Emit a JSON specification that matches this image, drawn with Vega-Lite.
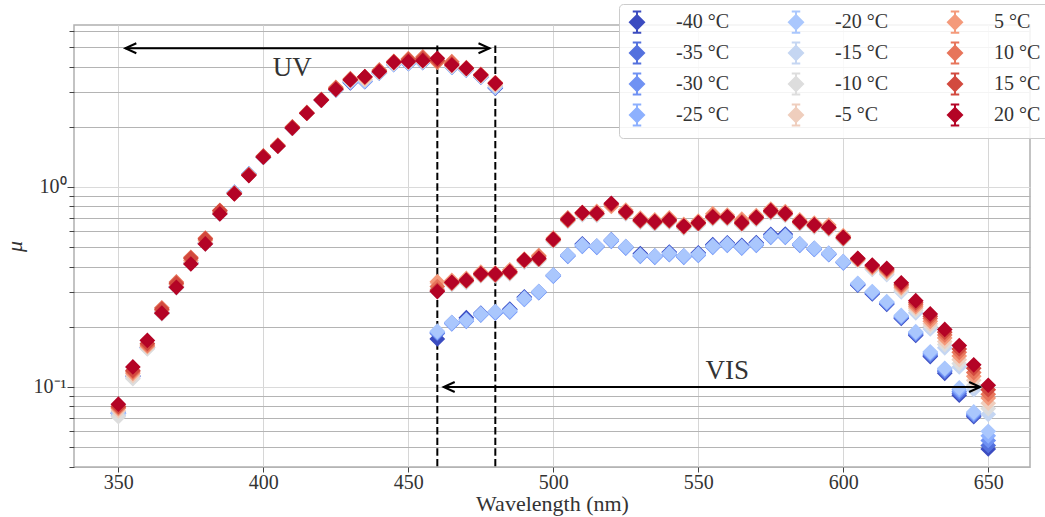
{
  "$schema": "https://vega.github.io/schema/vega-lite/v6.json",
  "autosize": {"type": "none"},
  "padding": {"left": 74, "top": 25, "right": 15, "bottom": 50},
  "width": 956,
  "height": 442,
  "background": "white",
  "config": {
    "font": "Liberation Serif",
    "view": {"stroke": "#b0b0b0", "strokeWidth": 1.5},
    "axis": {"labelFont": "Liberation Serif", "titleFont": "Liberation Serif", "labelFontSize": 20, "titleFontSize": 20, "labelColor": "#333333", "titleColor": "#333333", "tickColor": "#444444", "domain": false, "titleFontWeight": "normal"}
  },
  "datasets": {
    "pts": [
      {"t":"-40 °C","w":350,"m":0.074},{"t":"-40 °C","w":355,"m":0.113},{"t":"-40 °C","w":360,"m":0.157},{"t":"-40 °C","w":365,"m":0.235},{"t":"-40 °C","w":370,"m":0.316},{"t":"-40 °C","w":375,"m":0.416},{"t":"-40 °C","w":380,"m":0.522},{"t":"-40 °C","w":385,"m":0.738},{"t":"-40 °C","w":390,"m":0.94},{"t":"-40 °C","w":395,"m":1.16},{"t":"-40 °C","w":400,"m":1.41},{"t":"-40 °C","w":405,"m":1.6},{"t":"-40 °C","w":410,"m":1.97},{"t":"-40 °C","w":415,"m":2.34},{"t":"-40 °C","w":420,"m":2.72},{"t":"-40 °C","w":425,"m":3.06},{"t":"-40 °C","w":430,"m":3.32},{"t":"-40 °C","w":435,"m":3.36},{"t":"-40 °C","w":440,"m":3.72},{"t":"-40 °C","w":445,"m":4.1},{"t":"-40 °C","w":450,"m":4.15},{"t":"-40 °C","w":455,"m":4.2},{"t":"-40 °C","w":460,"m":4.25},{"t":"-40 °C","w":465,"m":3.98},{"t":"-40 °C","w":470,"m":3.85},{"t":"-40 °C","w":475,"m":3.55},{"t":"-40 °C","w":480,"m":3.12},
      {"t":"-40 °C","w":460,"m":0.174},{"t":"-40 °C","w":465,"m":0.208},{"t":"-40 °C","w":470,"m":0.222},{"t":"-40 °C","w":475,"m":0.232},{"t":"-40 °C","w":480,"m":0.236},{"t":"-40 °C","w":485,"m":0.245},{"t":"-40 °C","w":490,"m":0.282},{"t":"-40 °C","w":495,"m":0.297},{"t":"-40 °C","w":500,"m":0.36},{"t":"-40 °C","w":505,"m":0.452},{"t":"-40 °C","w":510,"m":0.52},{"t":"-40 °C","w":515,"m":0.502},{"t":"-40 °C","w":520,"m":0.54},{"t":"-40 °C","w":525,"m":0.498},{"t":"-40 °C","w":530,"m":0.465},{"t":"-40 °C","w":535,"m":0.448},{"t":"-40 °C","w":540,"m":0.473},{"t":"-40 °C","w":545,"m":0.448},{"t":"-40 °C","w":550,"m":0.469},{"t":"-40 °C","w":555,"m":0.515},{"t":"-40 °C","w":560,"m":0.526},{"t":"-40 °C","w":565,"m":0.511},{"t":"-40 °C","w":570,"m":0.527},{"t":"-40 °C","w":575,"m":0.58},{"t":"-40 °C","w":580,"m":0.582},{"t":"-40 °C","w":585,"m":0.514},{"t":"-40 °C","w":590,"m":0.489},{"t":"-40 °C","w":595,"m":0.461},{"t":"-40 °C","w":600,"m":0.419},{"t":"-40 °C","w":605,"m":0.323},{"t":"-40 °C","w":610,"m":0.292},{"t":"-40 °C","w":615,"m":0.259},{"t":"-40 °C","w":620,"m":0.22},{"t":"-40 °C","w":625,"m":0.181},{"t":"-40 °C","w":630,"m":0.142},{"t":"-40 °C","w":635,"m":0.117},{"t":"-40 °C","w":640,"m":0.091},{"t":"-40 °C","w":645,"m":0.071},{"t":"-40 °C","w":650,"m":0.049},

      {"t":"-35 °C","w":350,"m":0.074},{"t":"-35 °C","w":355,"m":0.113},{"t":"-35 °C","w":360,"m":0.157},{"t":"-35 °C","w":365,"m":0.235},{"t":"-35 °C","w":370,"m":0.316},{"t":"-35 °C","w":375,"m":0.416},{"t":"-35 °C","w":380,"m":0.522},{"t":"-35 °C","w":385,"m":0.738},{"t":"-35 °C","w":390,"m":0.94},{"t":"-35 °C","w":395,"m":1.16},{"t":"-35 °C","w":400,"m":1.41},{"t":"-35 °C","w":405,"m":1.6},{"t":"-35 °C","w":410,"m":1.97},{"t":"-35 °C","w":415,"m":2.34},{"t":"-35 °C","w":420,"m":2.72},{"t":"-35 °C","w":425,"m":3.06},{"t":"-35 °C","w":430,"m":3.35},{"t":"-35 °C","w":435,"m":3.38},{"t":"-35 °C","w":440,"m":3.72},{"t":"-35 °C","w":445,"m":4.1},{"t":"-35 °C","w":450,"m":4.15},{"t":"-35 °C","w":455,"m":4.2},{"t":"-35 °C","w":460,"m":4.25},{"t":"-35 °C","w":465,"m":3.98},{"t":"-35 °C","w":470,"m":3.85},{"t":"-35 °C","w":475,"m":3.55},{"t":"-35 °C","w":480,"m":3.15},
      {"t":"-35 °C","w":460,"m":0.185},{"t":"-35 °C","w":465,"m":0.21},{"t":"-35 °C","w":470,"m":0.218},{"t":"-35 °C","w":475,"m":0.234},{"t":"-35 °C","w":480,"m":0.238},{"t":"-35 °C","w":485,"m":0.243},{"t":"-35 °C","w":490,"m":0.28},{"t":"-35 °C","w":495,"m":0.3},{"t":"-35 °C","w":500,"m":0.363},{"t":"-35 °C","w":505,"m":0.457},{"t":"-35 °C","w":510,"m":0.515},{"t":"-35 °C","w":515,"m":0.507},{"t":"-35 °C","w":520,"m":0.545},{"t":"-35 °C","w":525,"m":0.503},{"t":"-35 °C","w":530,"m":0.457},{"t":"-35 °C","w":535,"m":0.452},{"t":"-35 °C","w":540,"m":0.47},{"t":"-35 °C","w":545,"m":0.452},{"t":"-35 °C","w":550,"m":0.465},{"t":"-35 °C","w":555,"m":0.51},{"t":"-35 °C","w":560,"m":0.522},{"t":"-35 °C","w":565,"m":0.506},{"t":"-35 °C","w":570,"m":0.522},{"t":"-35 °C","w":575,"m":0.575},{"t":"-35 °C","w":580,"m":0.575},{"t":"-35 °C","w":585,"m":0.519},{"t":"-35 °C","w":590,"m":0.494},{"t":"-35 °C","w":595,"m":0.466},{"t":"-35 °C","w":600,"m":0.423},{"t":"-35 °C","w":605,"m":0.325},{"t":"-35 °C","w":610,"m":0.294},{"t":"-35 °C","w":615,"m":0.261},{"t":"-35 °C","w":620,"m":0.222},{"t":"-35 °C","w":625,"m":0.183},{"t":"-35 °C","w":630,"m":0.144},{"t":"-35 °C","w":635,"m":0.119},{"t":"-35 °C","w":640,"m":0.093},{"t":"-35 °C","w":645,"m":0.072},{"t":"-35 °C","w":650,"m":0.051},

      {"t":"-30 °C","w":350,"m":0.074},{"t":"-30 °C","w":355,"m":0.114},{"t":"-30 °C","w":360,"m":0.158},{"t":"-30 °C","w":365,"m":0.236},{"t":"-30 °C","w":370,"m":0.317},{"t":"-30 °C","w":375,"m":0.418},{"t":"-30 °C","w":380,"m":0.524},{"t":"-30 °C","w":385,"m":0.74},{"t":"-30 °C","w":390,"m":0.938},{"t":"-30 °C","w":395,"m":1.16},{"t":"-30 °C","w":400,"m":1.41},{"t":"-30 °C","w":405,"m":1.6},{"t":"-30 °C","w":410,"m":1.97},{"t":"-30 °C","w":415,"m":2.34},{"t":"-30 °C","w":420,"m":2.72},{"t":"-30 °C","w":425,"m":3.06},{"t":"-30 °C","w":430,"m":3.35},{"t":"-30 °C","w":435,"m":3.38},{"t":"-30 °C","w":440,"m":3.72},{"t":"-30 °C","w":445,"m":4.1},{"t":"-30 °C","w":450,"m":4.15},{"t":"-30 °C","w":455,"m":4.2},{"t":"-30 °C","w":460,"m":4.25},{"t":"-30 °C","w":465,"m":3.98},{"t":"-30 °C","w":470,"m":3.85},{"t":"-30 °C","w":475,"m":3.55},{"t":"-30 °C","w":480,"m":3.15},
      {"t":"-30 °C","w":460,"m":0.187},{"t":"-30 °C","w":465,"m":0.207},{"t":"-30 °C","w":470,"m":0.213},{"t":"-30 °C","w":475,"m":0.229},{"t":"-30 °C","w":480,"m":0.234},{"t":"-30 °C","w":485,"m":0.237},{"t":"-30 °C","w":490,"m":0.274},{"t":"-30 °C","w":495,"m":0.296},{"t":"-30 °C","w":500,"m":0.358},{"t":"-30 °C","w":505,"m":0.45},{"t":"-30 °C","w":510,"m":0.505},{"t":"-30 °C","w":515,"m":0.499},{"t":"-30 °C","w":520,"m":0.535},{"t":"-30 °C","w":525,"m":0.495},{"t":"-30 °C","w":530,"m":0.45},{"t":"-30 °C","w":535,"m":0.445},{"t":"-30 °C","w":540,"m":0.459},{"t":"-30 °C","w":545,"m":0.445},{"t":"-30 °C","w":550,"m":0.455},{"t":"-30 °C","w":555,"m":0.499},{"t":"-30 °C","w":560,"m":0.511},{"t":"-30 °C","w":565,"m":0.495},{"t":"-30 °C","w":570,"m":0.511},{"t":"-30 °C","w":575,"m":0.56},{"t":"-30 °C","w":580,"m":0.56},{"t":"-30 °C","w":585,"m":0.511},{"t":"-30 °C","w":590,"m":0.487},{"t":"-30 °C","w":595,"m":0.459},{"t":"-30 °C","w":600,"m":0.417},{"t":"-30 °C","w":605,"m":0.326},{"t":"-30 °C","w":610,"m":0.296},{"t":"-30 °C","w":615,"m":0.263},{"t":"-30 °C","w":620,"m":0.224},{"t":"-30 °C","w":625,"m":0.185},{"t":"-30 °C","w":630,"m":0.146},{"t":"-30 °C","w":635,"m":0.121},{"t":"-30 °C","w":640,"m":0.095},{"t":"-30 °C","w":645,"m":0.073},{"t":"-30 °C","w":650,"m":0.054},

      {"t":"-25 °C","w":350,"m":0.075},{"t":"-25 °C","w":355,"m":0.114},{"t":"-25 °C","w":360,"m":0.158},{"t":"-25 °C","w":365,"m":0.236},{"t":"-25 °C","w":370,"m":0.317},{"t":"-25 °C","w":375,"m":0.418},{"t":"-25 °C","w":380,"m":0.524},{"t":"-25 °C","w":385,"m":0.74},{"t":"-25 °C","w":390,"m":0.938},{"t":"-25 °C","w":395,"m":1.16},{"t":"-25 °C","w":400,"m":1.41},{"t":"-25 °C","w":405,"m":1.6},{"t":"-25 °C","w":410,"m":1.97},{"t":"-25 °C","w":415,"m":2.34},{"t":"-25 °C","w":420,"m":2.72},{"t":"-25 °C","w":425,"m":3.06},{"t":"-25 °C","w":430,"m":3.35},{"t":"-25 °C","w":435,"m":3.38},{"t":"-25 °C","w":440,"m":3.72},{"t":"-25 °C","w":445,"m":4.1},{"t":"-25 °C","w":450,"m":4.15},{"t":"-25 °C","w":455,"m":4.2},{"t":"-25 °C","w":460,"m":4.25},{"t":"-25 °C","w":465,"m":3.98},{"t":"-25 °C","w":470,"m":3.85},{"t":"-25 °C","w":475,"m":3.55},{"t":"-25 °C","w":480,"m":3.15},
      {"t":"-25 °C","w":460,"m":0.188},{"t":"-25 °C","w":465,"m":0.208},{"t":"-25 °C","w":470,"m":0.214},{"t":"-25 °C","w":475,"m":0.23},{"t":"-25 °C","w":480,"m":0.236},{"t":"-25 °C","w":485,"m":0.239},{"t":"-25 °C","w":490,"m":0.275},{"t":"-25 °C","w":495,"m":0.297},{"t":"-25 °C","w":500,"m":0.359},{"t":"-25 °C","w":505,"m":0.452},{"t":"-25 °C","w":510,"m":0.508},{"t":"-25 °C","w":515,"m":0.502},{"t":"-25 °C","w":520,"m":0.538},{"t":"-25 °C","w":525,"m":0.498},{"t":"-25 °C","w":530,"m":0.452},{"t":"-25 °C","w":535,"m":0.447},{"t":"-25 °C","w":540,"m":0.461},{"t":"-25 °C","w":545,"m":0.447},{"t":"-25 °C","w":550,"m":0.457},{"t":"-25 °C","w":555,"m":0.502},{"t":"-25 °C","w":560,"m":0.514},{"t":"-25 °C","w":565,"m":0.498},{"t":"-25 °C","w":570,"m":0.514},{"t":"-25 °C","w":575,"m":0.563},{"t":"-25 °C","w":580,"m":0.563},{"t":"-25 °C","w":585,"m":0.514},{"t":"-25 °C","w":590,"m":0.489},{"t":"-25 °C","w":595,"m":0.461},{"t":"-25 °C","w":600,"m":0.419},{"t":"-25 °C","w":605,"m":0.328},{"t":"-25 °C","w":610,"m":0.298},{"t":"-25 °C","w":615,"m":0.265},{"t":"-25 °C","w":620,"m":0.226},{"t":"-25 °C","w":625,"m":0.187},{"t":"-25 °C","w":630,"m":0.148},{"t":"-25 °C","w":635,"m":0.123},{"t":"-25 °C","w":640,"m":0.097},{"t":"-25 °C","w":645,"m":0.074},{"t":"-25 °C","w":650,"m":0.057},

      {"t":"-20 °C","w":350,"m":0.074},{"t":"-20 °C","w":355,"m":0.113},{"t":"-20 °C","w":360,"m":0.157},{"t":"-20 °C","w":365,"m":0.235},{"t":"-20 °C","w":370,"m":0.316},{"t":"-20 °C","w":375,"m":0.416},{"t":"-20 °C","w":380,"m":0.522},{"t":"-20 °C","w":385,"m":0.738},{"t":"-20 °C","w":390,"m":0.94},{"t":"-20 °C","w":395,"m":1.16},{"t":"-20 °C","w":400,"m":1.41},{"t":"-20 °C","w":405,"m":1.6},{"t":"-20 °C","w":410,"m":1.97},{"t":"-20 °C","w":415,"m":2.34},{"t":"-20 °C","w":420,"m":2.72},{"t":"-20 °C","w":425,"m":3.06},{"t":"-20 °C","w":430,"m":3.35},{"t":"-20 °C","w":435,"m":3.38},{"t":"-20 °C","w":440,"m":3.72},{"t":"-20 °C","w":445,"m":4.1},{"t":"-20 °C","w":450,"m":4.15},{"t":"-20 °C","w":455,"m":4.2},{"t":"-20 °C","w":460,"m":4.25},{"t":"-20 °C","w":465,"m":3.98},{"t":"-20 °C","w":470,"m":3.85},{"t":"-20 °C","w":475,"m":3.55},{"t":"-20 °C","w":480,"m":3.15},
      {"t":"-20 °C","w":460,"m":0.19},{"t":"-20 °C","w":465,"m":0.21},{"t":"-20 °C","w":470,"m":0.216},{"t":"-20 °C","w":475,"m":0.232},{"t":"-20 °C","w":480,"m":0.238},{"t":"-20 °C","w":485,"m":0.241},{"t":"-20 °C","w":490,"m":0.278},{"t":"-20 °C","w":495,"m":0.3},{"t":"-20 °C","w":500,"m":0.363},{"t":"-20 °C","w":505,"m":0.457},{"t":"-20 °C","w":510,"m":0.513},{"t":"-20 °C","w":515,"m":0.507},{"t":"-20 °C","w":520,"m":0.543},{"t":"-20 °C","w":525,"m":0.503},{"t":"-20 °C","w":530,"m":0.457},{"t":"-20 °C","w":535,"m":0.452},{"t":"-20 °C","w":540,"m":0.466},{"t":"-20 °C","w":545,"m":0.452},{"t":"-20 °C","w":550,"m":0.462},{"t":"-20 °C","w":555,"m":0.507},{"t":"-20 °C","w":560,"m":0.519},{"t":"-20 °C","w":565,"m":0.503},{"t":"-20 °C","w":570,"m":0.519},{"t":"-20 °C","w":575,"m":0.569},{"t":"-20 °C","w":580,"m":0.569},{"t":"-20 °C","w":585,"m":0.519},{"t":"-20 °C","w":590,"m":0.494},{"t":"-20 °C","w":595,"m":0.466},{"t":"-20 °C","w":600,"m":0.423},{"t":"-20 °C","w":605,"m":0.33},{"t":"-20 °C","w":610,"m":0.3},{"t":"-20 °C","w":615,"m":0.267},{"t":"-20 °C","w":620,"m":0.228},{"t":"-20 °C","w":625,"m":0.189},{"t":"-20 °C","w":630,"m":0.15},{"t":"-20 °C","w":635,"m":0.124},{"t":"-20 °C","w":640,"m":0.099},{"t":"-20 °C","w":645,"m":0.075},{"t":"-20 °C","w":650,"m":0.06},

      {"t":"-15 °C","w":350,"m":0.072},{"t":"-15 °C","w":355,"m":0.111},{"t":"-15 °C","w":360,"m":0.156},{"t":"-15 °C","w":365,"m":0.233},{"t":"-15 °C","w":370,"m":0.314},{"t":"-15 °C","w":375,"m":0.414},{"t":"-15 °C","w":380,"m":0.52},{"t":"-15 °C","w":385,"m":0.735},{"t":"-15 °C","w":390,"m":0.935},{"t":"-15 °C","w":395,"m":1.15},{"t":"-15 °C","w":400,"m":1.41},{"t":"-15 °C","w":405,"m":1.6},{"t":"-15 °C","w":410,"m":1.97},{"t":"-15 °C","w":415,"m":2.34},{"t":"-15 °C","w":420,"m":2.72},{"t":"-15 °C","w":425,"m":3.07},{"t":"-15 °C","w":430,"m":3.4},{"t":"-15 °C","w":435,"m":3.45},{"t":"-15 °C","w":440,"m":3.75},{"t":"-15 °C","w":445,"m":4.15},{"t":"-15 °C","w":450,"m":4.2},{"t":"-15 °C","w":455,"m":4.25},{"t":"-15 °C","w":460,"m":4.25},{"t":"-15 °C","w":465,"m":4.02},{"t":"-15 °C","w":470,"m":3.88},{"t":"-15 °C","w":475,"m":3.58},{"t":"-15 °C","w":480,"m":3.22},
      {"t":"-15 °C","w":460,"m":0.3},{"t":"-15 °C","w":465,"m":0.326},{"t":"-15 °C","w":470,"m":0.333},{"t":"-15 °C","w":475,"m":0.359},{"t":"-15 °C","w":480,"m":0.359},{"t":"-15 °C","w":485,"m":0.368},{"t":"-15 °C","w":490,"m":0.421},{"t":"-15 °C","w":495,"m":0.429},{"t":"-15 °C","w":500,"m":0.534},{"t":"-15 °C","w":505,"m":0.673},{"t":"-15 °C","w":510,"m":0.725},{"t":"-15 °C","w":515,"m":0.722},{"t":"-15 °C","w":520,"m":0.808},{"t":"-15 °C","w":525,"m":0.733},{"t":"-15 °C","w":530,"m":0.667},{"t":"-15 °C","w":535,"m":0.654},{"t":"-15 °C","w":540,"m":0.667},{"t":"-15 °C","w":545,"m":0.622},{"t":"-15 °C","w":550,"m":0.646},{"t":"-15 °C","w":555,"m":0.692},{"t":"-15 °C","w":560,"m":0.692},{"t":"-15 °C","w":565,"m":0.646},{"t":"-15 °C","w":570,"m":0.687},{"t":"-15 °C","w":575,"m":0.742},{"t":"-15 °C","w":580,"m":0.721},{"t":"-15 °C","w":585,"m":0.654},{"t":"-15 °C","w":590,"m":0.63},{"t":"-15 °C","w":595,"m":0.613},{"t":"-15 °C","w":600,"m":0.546},{"t":"-15 °C","w":605,"m":0.427},{"t":"-15 °C","w":610,"m":0.387},{"t":"-15 °C","w":615,"m":0.365},{"t":"-15 °C","w":620,"m":0.299},{"t":"-15 °C","w":625,"m":0.235},{"t":"-15 °C","w":630,"m":0.195},{"t":"-15 °C","w":635,"m":0.157},{"t":"-15 °C","w":640,"m":0.126},{"t":"-15 °C","w":645,"m":0.097},{"t":"-15 °C","w":650,"m":0.073},

      {"t":"-10 °C","w":350,"m":0.071},{"t":"-10 °C","w":355,"m":0.11},{"t":"-10 °C","w":360,"m":0.155},{"t":"-10 °C","w":365,"m":0.232},{"t":"-10 °C","w":370,"m":0.313},{"t":"-10 °C","w":375,"m":0.414},{"t":"-10 °C","w":380,"m":0.52},{"t":"-10 °C","w":385,"m":0.735},{"t":"-10 °C","w":390,"m":0.93},{"t":"-10 °C","w":395,"m":1.15},{"t":"-10 °C","w":400,"m":1.41},{"t":"-10 °C","w":405,"m":1.6},{"t":"-10 °C","w":410,"m":1.97},{"t":"-10 °C","w":415,"m":2.34},{"t":"-10 °C","w":420,"m":2.72},{"t":"-10 °C","w":425,"m":3.07},{"t":"-10 °C","w":430,"m":3.4},{"t":"-10 °C","w":435,"m":3.45},{"t":"-10 °C","w":440,"m":3.75},{"t":"-10 °C","w":445,"m":4.15},{"t":"-10 °C","w":450,"m":4.2},{"t":"-10 °C","w":455,"m":4.25},{"t":"-10 °C","w":460,"m":4.25},{"t":"-10 °C","w":465,"m":4.02},{"t":"-10 °C","w":470,"m":3.88},{"t":"-10 °C","w":475,"m":3.58},{"t":"-10 °C","w":480,"m":3.22},
      {"t":"-10 °C","w":460,"m":0.31},{"t":"-10 °C","w":465,"m":0.327},{"t":"-10 °C","w":470,"m":0.335},{"t":"-10 °C","w":475,"m":0.361},{"t":"-10 °C","w":480,"m":0.361},{"t":"-10 °C","w":485,"m":0.369},{"t":"-10 °C","w":490,"m":0.423},{"t":"-10 °C","w":495,"m":0.431},{"t":"-10 °C","w":500,"m":0.537},{"t":"-10 °C","w":505,"m":0.676},{"t":"-10 °C","w":510,"m":0.729},{"t":"-10 °C","w":515,"m":0.725},{"t":"-10 °C","w":520,"m":0.812},{"t":"-10 °C","w":525,"m":0.737},{"t":"-10 °C","w":530,"m":0.67},{"t":"-10 °C","w":535,"m":0.658},{"t":"-10 °C","w":540,"m":0.67},{"t":"-10 °C","w":545,"m":0.625},{"t":"-10 °C","w":550,"m":0.65},{"t":"-10 °C","w":555,"m":0.696},{"t":"-10 °C","w":560,"m":0.696},{"t":"-10 °C","w":565,"m":0.65},{"t":"-10 °C","w":570,"m":0.691},{"t":"-10 °C","w":575,"m":0.746},{"t":"-10 °C","w":580,"m":0.724},{"t":"-10 °C","w":585,"m":0.658},{"t":"-10 °C","w":590,"m":0.633},{"t":"-10 °C","w":595,"m":0.616},{"t":"-10 °C","w":600,"m":0.549},{"t":"-10 °C","w":605,"m":0.429},{"t":"-10 °C","w":610,"m":0.39},{"t":"-10 °C","w":615,"m":0.369},{"t":"-10 °C","w":620,"m":0.304},{"t":"-10 °C","w":625,"m":0.241},{"t":"-10 °C","w":630,"m":0.201},{"t":"-10 °C","w":635,"m":0.163},{"t":"-10 °C","w":640,"m":0.131},{"t":"-10 °C","w":645,"m":0.102},{"t":"-10 °C","w":650,"m":0.078},

      {"t":"-5 °C","w":350,"m":0.076},{"t":"-5 °C","w":355,"m":0.114},{"t":"-5 °C","w":360,"m":0.158},{"t":"-5 °C","w":365,"m":0.236},{"t":"-5 °C","w":370,"m":0.318},{"t":"-5 °C","w":375,"m":0.42},{"t":"-5 °C","w":380,"m":0.527},{"t":"-5 °C","w":385,"m":0.74},{"t":"-5 °C","w":390,"m":0.93},{"t":"-5 °C","w":395,"m":1.15},{"t":"-5 °C","w":400,"m":1.41},{"t":"-5 °C","w":405,"m":1.6},{"t":"-5 °C","w":410,"m":1.97},{"t":"-5 °C","w":415,"m":2.34},{"t":"-5 °C","w":420,"m":2.72},{"t":"-5 °C","w":425,"m":3.07},{"t":"-5 °C","w":430,"m":3.4},{"t":"-5 °C","w":435,"m":3.45},{"t":"-5 °C","w":440,"m":3.75},{"t":"-5 °C","w":445,"m":4.15},{"t":"-5 °C","w":450,"m":4.2},{"t":"-5 °C","w":455,"m":4.25},{"t":"-5 °C","w":460,"m":4.25},{"t":"-5 °C","w":465,"m":4.02},{"t":"-5 °C","w":470,"m":3.88},{"t":"-5 °C","w":475,"m":3.58},{"t":"-5 °C","w":480,"m":3.22},
      {"t":"-5 °C","w":460,"m":0.33},{"t":"-5 °C","w":465,"m":0.329},{"t":"-5 °C","w":470,"m":0.337},{"t":"-5 °C","w":475,"m":0.362},{"t":"-5 °C","w":480,"m":0.362},{"t":"-5 °C","w":485,"m":0.371},{"t":"-5 °C","w":490,"m":0.426},{"t":"-5 °C","w":495,"m":0.433},{"t":"-5 °C","w":500,"m":0.54},{"t":"-5 °C","w":505,"m":0.68},{"t":"-5 °C","w":510,"m":0.733},{"t":"-5 °C","w":515,"m":0.729},{"t":"-5 °C","w":520,"m":0.817},{"t":"-5 °C","w":525,"m":0.741},{"t":"-5 °C","w":530,"m":0.674},{"t":"-5 °C","w":535,"m":0.661},{"t":"-5 °C","w":540,"m":0.674},{"t":"-5 °C","w":545,"m":0.628},{"t":"-5 °C","w":550,"m":0.653},{"t":"-5 °C","w":555,"m":0.699},{"t":"-5 °C","w":560,"m":0.699},{"t":"-5 °C","w":565,"m":0.653},{"t":"-5 °C","w":570,"m":0.694},{"t":"-5 °C","w":575,"m":0.75},{"t":"-5 °C","w":580,"m":0.728},{"t":"-5 °C","w":585,"m":0.661},{"t":"-5 °C","w":590,"m":0.636},{"t":"-5 °C","w":595,"m":0.62},{"t":"-5 °C","w":600,"m":0.552},{"t":"-5 °C","w":605,"m":0.431},{"t":"-5 °C","w":610,"m":0.393},{"t":"-5 °C","w":615,"m":0.374},{"t":"-5 °C","w":620,"m":0.31},{"t":"-5 °C","w":625,"m":0.247},{"t":"-5 °C","w":630,"m":0.207},{"t":"-5 °C","w":635,"m":0.169},{"t":"-5 °C","w":640,"m":0.137},{"t":"-5 °C","w":645,"m":0.108},{"t":"-5 °C","w":650,"m":0.083},

      {"t":"5 °C","w":350,"m":0.078},{"t":"5 °C","w":355,"m":0.117},{"t":"5 °C","w":360,"m":0.16},{"t":"5 °C","w":365,"m":0.242},{"t":"5 °C","w":370,"m":0.325},{"t":"5 °C","w":375,"m":0.43},{"t":"5 °C","w":380,"m":0.54},{"t":"5 °C","w":385,"m":0.75},{"t":"5 °C","w":390,"m":0.93},{"t":"5 °C","w":395,"m":1.15},{"t":"5 °C","w":400,"m":1.42},{"t":"5 °C","w":405,"m":1.6},{"t":"5 °C","w":410,"m":1.97},{"t":"5 °C","w":415,"m":2.34},{"t":"5 °C","w":420,"m":2.72},{"t":"5 °C","w":425,"m":3.12},{"t":"5 °C","w":430,"m":3.45},{"t":"5 °C","w":435,"m":3.52},{"t":"5 °C","w":440,"m":3.8},{"t":"5 °C","w":445,"m":4.22},{"t":"5 °C","w":450,"m":4.3},{"t":"5 °C","w":455,"m":4.35},{"t":"5 °C","w":460,"m":4.2},{"t":"5 °C","w":465,"m":4.15},{"t":"5 °C","w":470,"m":3.92},{"t":"5 °C","w":475,"m":3.63},{"t":"5 °C","w":480,"m":3.28},
      {"t":"5 °C","w":460,"m":0.336},{"t":"5 °C","w":465,"m":0.341},{"t":"5 °C","w":470,"m":0.349},{"t":"5 °C","w":475,"m":0.375},{"t":"5 °C","w":480,"m":0.372},{"t":"5 °C","w":485,"m":0.385},{"t":"5 °C","w":490,"m":0.436},{"t":"5 °C","w":495,"m":0.455},{"t":"5 °C","w":500,"m":0.556},{"t":"5 °C","w":505,"m":0.68},{"t":"5 °C","w":510,"m":0.745},{"t":"5 °C","w":515,"m":0.755},{"t":"5 °C","w":520,"m":0.8},{"t":"5 °C","w":525,"m":0.767},{"t":"5 °C","w":530,"m":0.698},{"t":"5 °C","w":535,"m":0.684},{"t":"5 °C","w":540,"m":0.7},{"t":"5 °C","w":545,"m":0.651},{"t":"5 °C","w":550,"m":0.676},{"t":"5 °C","w":555,"m":0.735},{"t":"5 °C","w":560,"m":0.724},{"t":"5 °C","w":565,"m":0.69},{"t":"5 °C","w":570,"m":0.719},{"t":"5 °C","w":575,"m":0.776},{"t":"5 °C","w":580,"m":0.754},{"t":"5 °C","w":585,"m":0.684},{"t":"5 °C","w":590,"m":0.659},{"t":"5 °C","w":595,"m":0.645},{"t":"5 °C","w":600,"m":0.571},{"t":"5 °C","w":605,"m":0.433},{"t":"5 °C","w":610,"m":0.397},{"t":"5 °C","w":615,"m":0.378},{"t":"5 °C","w":620,"m":0.315},{"t":"5 °C","w":625,"m":0.252},{"t":"5 °C","w":630,"m":0.213},{"t":"5 °C","w":635,"m":0.176},{"t":"5 °C","w":640,"m":0.143},{"t":"5 °C","w":645,"m":0.113},{"t":"5 °C","w":650,"m":0.088},

      {"t":"10 °C","w":350,"m":0.079},{"t":"10 °C","w":355,"m":0.119},{"t":"10 °C","w":360,"m":0.162},{"t":"10 °C","w":365,"m":0.249},{"t":"10 °C","w":370,"m":0.335},{"t":"10 °C","w":375,"m":0.445},{"t":"10 °C","w":380,"m":0.555},{"t":"10 °C","w":385,"m":0.765},{"t":"10 °C","w":390,"m":0.93},{"t":"10 °C","w":395,"m":1.15},{"t":"10 °C","w":400,"m":1.42},{"t":"10 °C","w":405,"m":1.62},{"t":"10 °C","w":410,"m":2.0},{"t":"10 °C","w":415,"m":2.36},{"t":"10 °C","w":420,"m":2.74},{"t":"10 °C","w":425,"m":3.15},{"t":"10 °C","w":430,"m":3.48},{"t":"10 °C","w":435,"m":3.55},{"t":"10 °C","w":440,"m":3.85},{"t":"10 °C","w":445,"m":4.25},{"t":"10 °C","w":450,"m":4.38},{"t":"10 °C","w":455,"m":4.47},{"t":"10 °C","w":460,"m":4.23},{"t":"10 °C","w":465,"m":4.23},{"t":"10 °C","w":470,"m":3.95},{"t":"10 °C","w":475,"m":3.66},{"t":"10 °C","w":480,"m":3.33},
      {"t":"10 °C","w":460,"m":0.318},{"t":"10 °C","w":465,"m":0.334},{"t":"10 °C","w":470,"m":0.342},{"t":"10 °C","w":475,"m":0.368},{"t":"10 °C","w":480,"m":0.368},{"t":"10 °C","w":485,"m":0.377},{"t":"10 °C","w":490,"m":0.432},{"t":"10 °C","w":495,"m":0.45},{"t":"10 °C","w":500,"m":0.548},{"t":"10 °C","w":505,"m":0.7},{"t":"10 °C","w":510,"m":0.744},{"t":"10 °C","w":515,"m":0.74},{"t":"10 °C","w":520,"m":0.815},{"t":"10 °C","w":525,"m":0.752},{"t":"10 °C","w":530,"m":0.684},{"t":"10 °C","w":535,"m":0.671},{"t":"10 °C","w":540,"m":0.69},{"t":"10 °C","w":545,"m":0.638},{"t":"10 °C","w":550,"m":0.663},{"t":"10 °C","w":555,"m":0.72},{"t":"10 °C","w":560,"m":0.71},{"t":"10 °C","w":565,"m":0.675},{"t":"10 °C","w":570,"m":0.705},{"t":"10 °C","w":575,"m":0.761},{"t":"10 °C","w":580,"m":0.739},{"t":"10 °C","w":585,"m":0.671},{"t":"10 °C","w":590,"m":0.646},{"t":"10 °C","w":595,"m":0.629},{"t":"10 °C","w":600,"m":0.56},{"t":"10 °C","w":605,"m":0.436},{"t":"10 °C","w":610,"m":0.4},{"t":"10 °C","w":615,"m":0.383},{"t":"10 °C","w":620,"m":0.321},{"t":"10 °C","w":625,"m":0.258},{"t":"10 °C","w":630,"m":0.22},{"t":"10 °C","w":635,"m":0.182},{"t":"10 °C","w":640,"m":0.149},{"t":"10 °C","w":645,"m":0.118},{"t":"10 °C","w":650,"m":0.092},

      {"t":"15 °C","w":350,"m":0.08},{"t":"15 °C","w":355,"m":0.121},{"t":"15 °C","w":360,"m":0.165},{"t":"15 °C","w":365,"m":0.245},{"t":"15 °C","w":370,"m":0.33},{"t":"15 °C","w":375,"m":0.44},{"t":"15 °C","w":380,"m":0.55},{"t":"15 °C","w":385,"m":0.76},{"t":"15 °C","w":390,"m":0.928},{"t":"15 °C","w":395,"m":1.15},{"t":"15 °C","w":400,"m":1.43},{"t":"15 °C","w":405,"m":1.61},{"t":"15 °C","w":410,"m":1.99},{"t":"15 °C","w":415,"m":2.34},{"t":"15 °C","w":420,"m":2.72},{"t":"15 °C","w":425,"m":3.1},{"t":"15 °C","w":430,"m":3.45},{"t":"15 °C","w":435,"m":3.55},{"t":"15 °C","w":440,"m":3.8},{"t":"15 °C","w":445,"m":4.22},{"t":"15 °C","w":450,"m":4.32},{"t":"15 °C","w":455,"m":4.38},{"t":"15 °C","w":460,"m":4.3},{"t":"15 °C","w":465,"m":4.12},{"t":"15 °C","w":470,"m":3.92},{"t":"15 °C","w":475,"m":3.63},{"t":"15 °C","w":480,"m":3.3},
      {"t":"15 °C","w":460,"m":0.305},{"t":"15 °C","w":465,"m":0.331},{"t":"15 °C","w":470,"m":0.339},{"t":"15 °C","w":475,"m":0.364},{"t":"15 °C","w":480,"m":0.364},{"t":"15 °C","w":485,"m":0.373},{"t":"15 °C","w":490,"m":0.428},{"t":"15 °C","w":495,"m":0.436},{"t":"15 °C","w":500,"m":0.543},{"t":"15 °C","w":505,"m":0.683},{"t":"15 °C","w":510,"m":0.737},{"t":"15 °C","w":515,"m":0.733},{"t":"15 °C","w":520,"m":0.821},{"t":"15 °C","w":525,"m":0.744},{"t":"15 °C","w":530,"m":0.677},{"t":"15 °C","w":535,"m":0.664},{"t":"15 °C","w":540,"m":0.677},{"t":"15 °C","w":545,"m":0.632},{"t":"15 °C","w":550,"m":0.656},{"t":"15 °C","w":555,"m":0.703},{"t":"15 °C","w":560,"m":0.703},{"t":"15 °C","w":565,"m":0.656},{"t":"15 °C","w":570,"m":0.698},{"t":"15 °C","w":575,"m":0.753},{"t":"15 °C","w":580,"m":0.732},{"t":"15 °C","w":585,"m":0.664},{"t":"15 °C","w":590,"m":0.64},{"t":"15 °C","w":595,"m":0.623},{"t":"15 °C","w":600,"m":0.554},{"t":"15 °C","w":605,"m":0.438},{"t":"15 °C","w":610,"m":0.404},{"t":"15 °C","w":615,"m":0.387},{"t":"15 °C","w":620,"m":0.326},{"t":"15 °C","w":625,"m":0.264},{"t":"15 °C","w":630,"m":0.226},{"t":"15 °C","w":635,"m":0.188},{"t":"15 °C","w":640,"m":0.155},{"t":"15 °C","w":645,"m":0.124},{"t":"15 °C","w":650,"m":0.097},

      {"t":"20 °C","w":350,"m":0.082},{"t":"20 °C","w":355,"m":0.126},{"t":"20 °C","w":360,"m":0.171},{"t":"20 °C","w":365,"m":0.234},{"t":"20 °C","w":370,"m":0.315},{"t":"20 °C","w":375,"m":0.412},{"t":"20 °C","w":380,"m":0.519},{"t":"20 °C","w":385,"m":0.733},{"t":"20 °C","w":390,"m":0.923},{"t":"20 °C","w":395,"m":1.14},{"t":"20 °C","w":400,"m":1.41},{"t":"20 °C","w":405,"m":1.6},{"t":"20 °C","w":410,"m":1.97},{"t":"20 °C","w":415,"m":2.34},{"t":"20 °C","w":420,"m":2.72},{"t":"20 °C","w":425,"m":3.08},{"t":"20 °C","w":430,"m":3.43},{"t":"20 °C","w":435,"m":3.56},{"t":"20 °C","w":440,"m":3.77},{"t":"20 °C","w":445,"m":4.2},{"t":"20 °C","w":450,"m":4.23},{"t":"20 °C","w":455,"m":4.28},{"t":"20 °C","w":460,"m":4.4},{"t":"20 °C","w":465,"m":4.07},{"t":"20 °C","w":470,"m":3.92},{"t":"20 °C","w":475,"m":3.63},{"t":"20 °C","w":480,"m":3.3},
      {"t":"20 °C","w":460,"m":0.3},{"t":"20 °C","w":465,"m":0.334},{"t":"20 °C","w":470,"m":0.342},{"t":"20 °C","w":475,"m":0.368},{"t":"20 °C","w":480,"m":0.368},{"t":"20 °C","w":485,"m":0.377},{"t":"20 °C","w":490,"m":0.432},{"t":"20 °C","w":495,"m":0.44},{"t":"20 °C","w":500,"m":0.548},{"t":"20 °C","w":505,"m":0.69},{"t":"20 °C","w":510,"m":0.744},{"t":"20 °C","w":515,"m":0.74},{"t":"20 °C","w":520,"m":0.829},{"t":"20 °C","w":525,"m":0.752},{"t":"20 °C","w":530,"m":0.684},{"t":"20 °C","w":535,"m":0.671},{"t":"20 °C","w":540,"m":0.684},{"t":"20 °C","w":545,"m":0.638},{"t":"20 °C","w":550,"m":0.663},{"t":"20 °C","w":555,"m":0.71},{"t":"20 °C","w":560,"m":0.71},{"t":"20 °C","w":565,"m":0.663},{"t":"20 °C","w":570,"m":0.705},{"t":"20 °C","w":575,"m":0.761},{"t":"20 °C","w":580,"m":0.739},{"t":"20 °C","w":585,"m":0.671},{"t":"20 °C","w":590,"m":0.646},{"t":"20 °C","w":595,"m":0.629},{"t":"20 °C","w":600,"m":0.56},{"t":"20 °C","w":605,"m":0.44},{"t":"20 °C","w":610,"m":0.407},{"t":"20 °C","w":615,"m":0.392},{"t":"20 °C","w":620,"m":0.332},{"t":"20 °C","w":625,"m":0.27},{"t":"20 °C","w":630,"m":0.232},{"t":"20 °C","w":635,"m":0.194},{"t":"20 °C","w":640,"m":0.161},{"t":"20 °C","w":645,"m":0.129},{"t":"20 °C","w":650,"m":0.102}
    ],
    "dash": [{"w": 460, "m": 5.1, "m2": 0.0398}, {"w": 480, "m": 5.1, "m2": 0.0398}],
    "arrows": [{"w": 352.4, "w2": 478, "m": 4.94}, {"w": 462.2, "w2": 647.2, "m": 0.1}],
    "heads_l": [{"w": 352.4, "m": 4.94}, {"w": 462.2, "m": 0.1}],
    "heads_r": [{"w": 478, "m": 4.94}, {"w": 647.2, "m": 0.1}],
    "labels": [{"w": 410, "m": 3.59, "txt": "UV"}, {"w": 560, "m": 0.11, "txt": "VIS"}]
  },
  "layer": [
    {
      "data": {"name": "dash"},
      "mark": {"type": "rule", "color": "black", "strokeWidth": 2, "strokeDash": [7.4, 3.2]},
      "encoding": {
        "x": {"field": "w", "type": "quantitative", "scale": {"domain": [334.7, 664.4], "nice": false, "zero": false},
          "axis": {"values": [350, 400, 450, 500, 550, 600, 650], "title": "Wavelength (nm)", "titleFontSize": 22, "gridColor": "#d6d6d6", "tickSize": 5, "labelPadding": 0, "titlePadding": 1}},
        "y": {"field": "m", "type": "quantitative", "scale": {"type": "log", "domain": [0.0398, 6.457], "nice": false},
          "axis": {"values": [0.04, 0.05, 0.06, 0.07, 0.08, 0.09, 0.1, 0.2, 0.3, 0.4, 0.5, 0.6, 0.7, 0.8, 0.9, 1, 2, 3, 4, 5, 6],
            "labelExpr": "datum.value == 1 ? '10⁰' : (datum.value == 0.1 ? '10⁻¹' : '')",
            "gridColor": {"condition": {"test": "datum.value == 1 || datum.value == 0.1", "value": "#dadada"}, "value": "#b4b4b4"},
            "tickSize": {"condition": {"test": "datum.value == 1 || datum.value == 0.1", "value": 7}, "value": 5},
            "labelPadding": 1, "title": "μ", "titleFontSize": 22, "titleFontStyle": "italic", "titleX": -60, "titleY": 221, "titleBaseline": "middle", "titleAlign": "center"}},
        "y2": {"field": "m2"}
      }
    },
    {
      "data": {"name": "pts"},
      "mark": {"type": "point", "shape": "diamond", "filled": true, "size": 185, "opacity": 1, "strokeWidth": 1.5},
      "encoding": {
        "x": {"field": "w", "type": "quantitative", "scale": {"domain": [334.7, 664.4], "nice": false, "zero": false}},
        "y": {"field": "m", "type": "quantitative", "scale": {"type": "log", "domain": [0.0398, 6.457], "nice": false}},
        "color": {"field": "t", "type": "nominal",
          "scale": {"domain": ["-40 °C", "-35 °C", "-30 °C", "-25 °C", "-20 °C", "-15 °C", "-10 °C", "-5 °C", "5 °C", "10 °C", "15 °C", "20 °C"],
            "range": ["#3b4cc0", "#5471de", "#7092f3", "#8db0fe", "#aac7fd", "#c5d6f2", "#dddddd", "#efcebd", "#f49a7b", "#e7755b", "#d24a3f", "#b40426"]},
          "legend": {"title": null, "orient": "none", "legendX": 545, "legendY": -21, "columns": 3, "padding": 8, "rowPadding": 1, "columnPadding": 55,
            "labelOffset": 29, "labelFont": "Liberation Serif", "labelFontSize": 20, "labelColor": "#333333",
            "strokeColor": "#cccccc", "fillColor": "rgba(255,255,255,0.85)", "cornerRadius": 4,
            "symbolType": "M-1,0L0,-1L1,0L0,1ZM0,-1.5L0,1.5M-0.6,-1.5L0.6,-1.5M-0.6,1.5L0.6,1.5",
            "symbolSize": 200, "symbolStrokeWidth": 2}},
        "stroke": {"field": "t", "type": "nominal",
          "scale": {"domain": ["-40 °C", "-35 °C", "-30 °C", "-25 °C", "-20 °C", "-15 °C", "-10 °C", "-5 °C", "5 °C", "10 °C", "15 °C", "20 °C"],
            "range": ["#3b4cc0", "#5471de", "#7092f3", "#8db0fe", "#aac7fd", "#c5d6f2", "#dddddd", "#efcebd", "#f49a7b", "#e7755b", "#d24a3f", "#b40426"]},
          "legend": {"title": null, "orient": "none", "legendX": 545, "legendY": -21, "columns": 3, "padding": 8, "rowPadding": 1, "columnPadding": 55,
            "labelOffset": 29, "labelFont": "Liberation Serif", "labelFontSize": 20, "labelColor": "#333333",
            "strokeColor": "#cccccc", "fillColor": "rgba(255,255,255,0.85)", "cornerRadius": 4,
            "symbolType": "M-1,0L0,-1L1,0L0,1ZM0,-1.5L0,1.5M-0.6,-1.5L0.6,-1.5M-0.6,1.5L0.6,1.5",
            "symbolSize": 200, "symbolStrokeWidth": 2}}
      }
    },
    {
      "data": {"name": "arrows"},
      "mark": {"type": "rule", "color": "black", "strokeWidth": 2},
      "encoding": {
        "x": {"field": "w", "type": "quantitative", "scale": {"domain": [334.7, 664.4], "nice": false, "zero": false}},
        "x2": {"field": "w2"},
        "y": {"field": "m", "type": "quantitative", "scale": {"type": "log", "domain": [0.0398, 6.457], "nice": false}}
      }
    },
    {
      "data": {"name": "heads_l"},
      "mark": {"type": "point", "shape": "M2.2,-1L0,0L2.2,1", "filled": false, "size": 100, "color": "black", "strokeWidth": 2, "opacity": 1, "strokeJoin": "miter"},
      "encoding": {
        "x": {"field": "w", "type": "quantitative", "scale": {"domain": [334.7, 664.4], "nice": false, "zero": false}},
        "y": {"field": "m", "type": "quantitative", "scale": {"type": "log", "domain": [0.0398, 6.457], "nice": false}}
      }
    },
    {
      "data": {"name": "heads_r"},
      "mark": {"type": "point", "shape": "M-2.2,-1L0,0L-2.2,1", "filled": false, "size": 100, "color": "black", "strokeWidth": 2, "opacity": 1, "strokeJoin": "miter"},
      "encoding": {
        "x": {"field": "w", "type": "quantitative", "scale": {"domain": [334.7, 664.4], "nice": false, "zero": false}},
        "y": {"field": "m", "type": "quantitative", "scale": {"type": "log", "domain": [0.0398, 6.457], "nice": false}}
      }
    },
    {
      "data": {"name": "labels"},
      "mark": {"type": "text", "font": "Liberation Serif", "fontSize": 27, "color": "#333333", "align": "center", "baseline": "alphabetic"},
      "encoding": {
        "x": {"field": "w", "type": "quantitative", "scale": {"domain": [334.7, 664.4], "nice": false, "zero": false}},
        "y": {"field": "m", "type": "quantitative", "scale": {"type": "log", "domain": [0.0398, 6.457], "nice": false}},
        "text": {"field": "txt"}
      }
    }
  ]
}
